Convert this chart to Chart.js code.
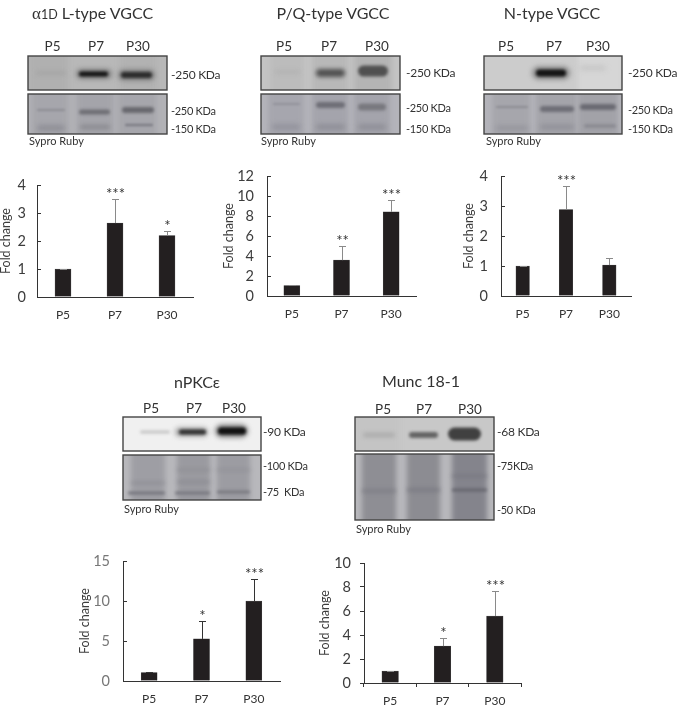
<!DOCTYPE html>
<html>
<head>
<meta charset="utf-8">
<script src="https://cdn.jsdelivr.net/npm/chart.js@4/dist/chart.umd.min.js"></script>
<style>
html, body { margin: 0; padding: 0; background: #fff; }
#page { position: relative; width: 677px; height: 705px; overflow: hidden; font-family: Lato, "Open Sans", sans-serif; color: #3a3a3a; }
#page canvas { position: absolute; }
.t { position: absolute; white-space: pre; transform: translateY(-50%); line-height: 1; }
.c { transform: translate(-50%, -50%); }
.title { font-size: 16px; color: #333; }
.lane { font-size: 13.5px; color: #333; }
.kda { font-size: 12px; letter-spacing: -0.25px; color: #333; }
.kda2 { font-size: 11px; letter-spacing: -0.3px; color: #333; }
.sypro { font-size: 11px; color: #333; }
.alpha { font-family: "Liberation Serif", serif; font-size: 17px; }
.oneD { font-size: 12.5px; }
</style>
</head>
<body>
<div id="page"><canvas id="blots" width="677" height="705" style="left:0;top:0"></canvas></div>
<script>
// values
const categories = ['P5', 'P7', 'P30'];

const alphaValues = [1, 2.64, 2.19];
const alphaErrors = [1.01, 3.5, 2.37];
const alphaStars = ['', '***', '*'];

const pqValues = [1.03, 3.58, 8.42];
const pqErrors = [1.1, 4.97, 9.6];
const pqStars = ['', '**', '***'];

const nTypeValues = [1, 2.88, 1.03];
const nTypeErrors = [1.01, 3.68, 1.27];
const nTypeStars = ['', '***', ''];

const pkcValues = [1.04, 5.26, 10];
const pkcErrors = [1.1, 7.46, 12.76];
const pkcStars = ['', '*', '***'];

const muncValues = [1, 3.07, 5.58];
const muncErrors = [1.03, 3.78, 7.65];
const muncStars = ['', '*', '***'];

const page = document.getElementById('page');

// error bars, significance stars and the inward y ticks
const errorBarPlugin = {
    id: 'errorBars',
    afterDatasetsDraw(chart, args, opts) {
        const ctx = chart.ctx;
        const bars = chart.getDatasetMeta(0).data;
        const y = chart.scales.y;
        ctx.save();
        bars.forEach((bar, i) => {
            const top = Math.round(y.getPixelForValue(opts.errors[i])) + 0.5;
            const x = Math.round(bar.x) + 0.5;
            ctx.strokeStyle = opts.color;
            ctx.lineWidth = 1;
            ctx.beginPath();
            ctx.moveTo(x, bar.y);
            ctx.lineTo(x, top);
            ctx.moveTo(x - 3.5, top);
            ctx.lineTo(x + 3.5, top);
            ctx.stroke();
            if (opts.stars[i]) {
                ctx.fillStyle = '#333';
                ctx.font = '15px Lato';
                ctx.textAlign = 'center';
                ctx.textBaseline = 'middle';
                ctx.fillText(opts.stars[i], x, top - 5);
            }
        });
        if (opts.inward) {
            ctx.strokeStyle = '#333';
            ctx.beginPath();
            y.ticks.forEach((t, i) => {
                const py = Math.round(y.getPixelForTick(i)) + 0.5;
                ctx.moveTo(chart.chartArea.left, py);
                ctx.lineTo(chart.chartArea.left + opts.inward, py);
            });
            ctx.stroke();
        }
        ctx.restore();
    }
};

function barChart(box, values, errors, stars, yMax, yStep) {
    const padTop = 12, padRight = 8, bottom = 26;
    const canvas = document.createElement('canvas');
    canvas.width = box.axisW + box.plotW + padRight;
    canvas.height = padTop + box.plotH + bottom;
    canvas.style.left = (box.x - box.axisW) + 'px';
    canvas.style.top = (box.y - padTop) + 'px';
    page.appendChild(canvas);
    const outward = box.tick > 0;
    return new Chart(canvas.getContext('2d'), {
        type: 'bar',
        data: {
            labels: categories,
            datasets: [{
                data: values,
                backgroundColor: '#231f20',
                borderColor: '#4a4a4a',
                borderWidth: 0.5,
                barThickness: box.barW
            }]
        },
        options: {
            responsive: false,
            animation: false,
            layout: { padding: { top: padTop, right: padRight, left: 0, bottom: 0 } },
            plugins: {
                legend: { display: false },
                tooltip: { enabled: false },
                errorBars: { errors: errors, stars: stars, color: box.errColor || '#8a8a8a', inward: outward ? 0 : 4 }
            },
            scales: {
                x: {
                    afterFit: s => { s.height = bottom; s.paddingLeft = 0; s.paddingRight = 0; },
                    border: { color: '#333', width: 1 },
                    grid: { drawOnChartArea: false, drawTicks: outward, tickLength: 4, color: '#333' },
                    ticks: { padding: outward ? 7 : 11, color: '#333', font: { family: 'Lato', size: 12 }, maxRotation: 0 }
                },
                y: {
                    min: 0,
                    max: yMax,
                    afterFit: s => { s.width = box.axisW; s.paddingTop = 0; s.paddingBottom = 0; },
                    border: { color: '#333', width: 1 },
                    grid: { drawOnChartArea: false, drawTicks: outward, tickLength: 4, color: '#333' },
                    ticks: { stepSize: yStep, autoSkip: false, padding: outward ? box.gap - 4 : box.gap, color: box.tickColor || '#3c3c3c', font: { family: 'Lato', size: 14.5 } },
                    title: { display: true, text: 'Fold change', padding: 0, color: '#3c3c3c', font: { family: 'Lato', size: 12.5 } }
                }
            }
        },
        plugins: [errorBarPlugin]
    });
}

barChart({ x: 37, y: 184.5, plotW: 156, plotH: 112, axisW: 39, barW: 16, tick: 0, gap: 11 }, alphaValues, alphaErrors, alphaStars, 4, 1);
barChart({ x: 267, y: 176, plotW: 149, plotH: 120.5, axisW: 46, barW: 16, tick: 0, gap: 13 }, pqValues, pqErrors, pqStars, 12, 2);
barChart({ x: 501, y: 176, plotW: 130, plotH: 120.5, axisW: 40, barW: 13.5, tick: 0, gap: 13 }, nTypeValues, nTypeErrors, nTypeStars, 4, 1);
barChart({ x: 123, y: 561, plotW: 157, plotH: 120.5, axisW: 46, barW: 16, tick: 0, gap: 13, errColor: '#333', tickColor: '#777' }, pkcValues, pkcErrors, pkcStars, 15, 5);
barChart({ x: 364, y: 562.5, plotW: 157, plotH: 120.5, axisW: 47, barW: 16.5, tick: 4, gap: 13 }, muncValues, muncErrors, muncStars, 10, 2);

// text around the blots
function label(text, cls, x, y, centred) {
    const el = document.createElement('div');
    el.className = 't ' + cls + (centred ? ' c' : '');
    el.style.left = x + 'px';
    el.style.top = y + 'px';
    el.innerHTML = text;
    page.appendChild(el);
}
label('<span class="alpha">α</span><span class="oneD">1D</span> L-type VGCC', 'title', 32, 13);
label('P/Q-type VGCC', 'title', 333, 13, true);
label('N-type VGCC', 'title', 552, 13, true);
label('nPKCε', 'title', 197, 382, true);
label('Munc 18-1', 'title', 421, 381, true);

[[52.5, 96, 138, 47], [284, 329, 377, 47], [506, 554, 598, 47], [151, 194, 234, 409], [383, 424, 470, 410]].forEach(l => {
    categories.forEach((c, i) => label(c, 'lane', l[i], l[3], true));
});

[['-250 KDa', 'kda', 171, 75], ['-250 KDa', 'kda2', 171, 110], ['-150 KDa', 'kda2', 171, 128],
 ['-250 KDa', 'kda', 406, 73], ['-250 KDa', 'kda2', 406, 107], ['-150 KDa', 'kda2', 406, 128],
 ['-250 KDa', 'kda', 628, 73], ['-250 KDa', 'kda2', 628, 109], ['-150 KDa', 'kda2', 628, 128],
 ['-90 KDa', 'kda', 263, 432], ['-100 KDa', 'kda2', 263, 465], ['-75  KDa', 'kda2', 263, 491],
 ['-68 KDa', 'kda', 497, 432], ['-75KDa', 'kda2', 497, 465], ['-50 KDa', 'kda2', 497, 509]
].forEach(k => label(k[0], k[1], k[2], k[3]));

[[29, 140], [261, 140], [486, 140], [124, 508], [356, 528]].forEach(s => label('Sypro Ruby', 'sypro', s[0], s[1]));

// blot panels, painted as soft bands: [x0, x1, y, height, colour, blur]
const bctx = document.getElementById('blots').getContext('2d');

function blot(x, y, w, h, bg, lanes, bands) {
    bctx.save();
    bctx.beginPath();
    bctx.rect(x, y, w, h);
    bctx.clip();
    bctx.fillStyle = bg;
    bctx.fillRect(x, y, w, h);
    lanes.forEach(l => {
        bctx.filter = 'blur(2.5px)';
        bctx.fillStyle = l[2];
        bctx.fillRect(l[0], y - 5, l[1] - l[0], h + 10);
    });
    bands.forEach(b => {
        bctx.filter = 'blur(' + (b[5] || 1.6) + 'px)';
        bctx.fillStyle = b[4];
        bctx.beginPath();
        bctx.roundRect(b[0], b[2] - b[3] / 2, b[1] - b[0], b[3], b[3] / 2);
        bctx.fill();
    });
    bctx.restore();
    bctx.strokeStyle = '#444';
    bctx.lineWidth = 1.4;
    bctx.strokeRect(x, y, w, h);
}

// alpha1D
blot(28, 56, 139, 34, '#b8b8b8', [[28, 68, '#b0b0b0'], [120, 156, '#b2b2b2']], [
    [36, 66, 73, 3, '#a2a2a2', 2], [76, 112, 74, 10, '#808080', 2.5], [118, 155, 75, 11, '#808080', 2.5],
    [79, 108, 74, 5, '#141414'], [121, 152, 75, 6, '#2c2c2c']]);
blot(28, 94, 139, 40, '#b2b2b6', [[32, 68, '#a6a6ac'], [77, 113, '#a4a4aa'], [118, 156, '#a6a6ac'], [32, 156, '#9c9ca2']].slice(0, 3), [
    [37, 65, 110, 1.5, '#84848a', 1], [79, 110, 112, 5, '#6e6e74'], [122, 154, 110, 6, '#68686e'],
    [37, 65, 128, 6, '#8f8f96', 2.5], [80, 110, 127, 4, '#88888e', 2], [125, 153, 125, 2.5, '#7e7e86', 1.2]]);

// P/Q
blot(261, 56, 139, 34, '#c4c4c4', [[270, 304, '#bcbcbc'], [312, 348, '#b8b8b8'], [354, 392, '#b4b4b4']], [
    [275, 300, 72, 3, '#b0b0b0', 2], [316, 345, 73, 8, '#505050', 2], [358, 388, 71, 11, '#505050', 1.8]]);
blot(261, 94, 139, 40, '#b4b4ba', [[268, 304, '#a6a6ae'], [312, 348, '#a4a4ac'], [354, 390, '#a4a4ac']], [
    [273, 300, 104, 1.5, '#8c8c94', 1], [316, 345, 105, 6, '#6e6e76'], [358, 386, 107, 7, '#78787e'],
    [272, 300, 127, 5, '#90909a', 2.5], [316, 345, 127, 5, '#8c8c94', 2.5], [358, 386, 127, 5, '#8c8c94', 2.5]]);

// N-type
blot(484, 56, 138, 34, '#cccccc', [[578, 622, '#d6d6d6']], [
    [532, 570, 73, 13, '#888', 2.5], [536, 566, 73, 7, '#141414'], [580, 606, 68, 5, '#c6c6c6', 2.5]]);
blot(484, 94, 138, 40, '#b4b4ba', [[492, 530, '#a6a6ac'], [536, 576, '#a4a4aa'], [578, 618, '#a2a2a8']], [
    [496, 528, 107, 1.5, '#85858c', 1], [540, 574, 109, 6, '#6e6e76'], [580, 616, 107, 6, '#6a6a72'],
    [496, 528, 128, 4, '#92929a', 2.5], [540, 574, 127, 4, '#8c8c94', 2.5], [584, 616, 126, 3, '#84848c', 1.5]]);

// nPKC epsilon
blot(123, 417, 138, 34, '#f0f0f0', [], [
    [140, 170, 432, 3, '#c4c4c4', 1.5], [175, 208, 432, 9, '#a4a4a4', 2.5], [215, 248, 431, 13, '#808080', 2.5],
    [179, 206, 432, 5, '#303030'], [218, 246, 431, 7, '#101010']]);
blot(123, 455, 138, 45, '#b8b8bc', [[131, 165, '#9e9ea4'], [177, 210, '#9a9aa0'], [217, 250, '#9c9ca2']], [
    [131, 165, 483, 2, '#88888f', 2], [177, 210, 470, 2, '#8a8a90', 2], [177, 210, 482, 2, '#84848c', 2], [217, 250, 470, 2, '#8e8e94', 2],
    [128, 165, 493, 3, '#74747c', 1.8], [175, 210, 493, 3, '#76767e', 1.8], [217, 250, 492, 3, '#78787f', 1.8]]);

// Munc 18-1
blot(355, 417, 139, 34, '#c8c8c8', [[355, 400, '#c4c4c4']], [
    [363, 395, 435, 4, '#a8a8a8', 2], [409, 438, 435, 6, '#646464', 1.8], [448, 481, 434, 13, '#404040', 1.5]]);
blot(355, 454, 139, 66, '#b8b8bc', [[362, 396, '#8e8e94'], [407, 440, '#8c8c92'], [452, 487, '#84848c']], [
    [362, 396, 491, 3, '#7c7c84', 2], [407, 440, 490, 3, '#787880', 2], [452, 487, 490, 3, '#66666e', 1.6], [452, 487, 476, 2, '#74747c', 2]]);
</script>
</body>
</html>
